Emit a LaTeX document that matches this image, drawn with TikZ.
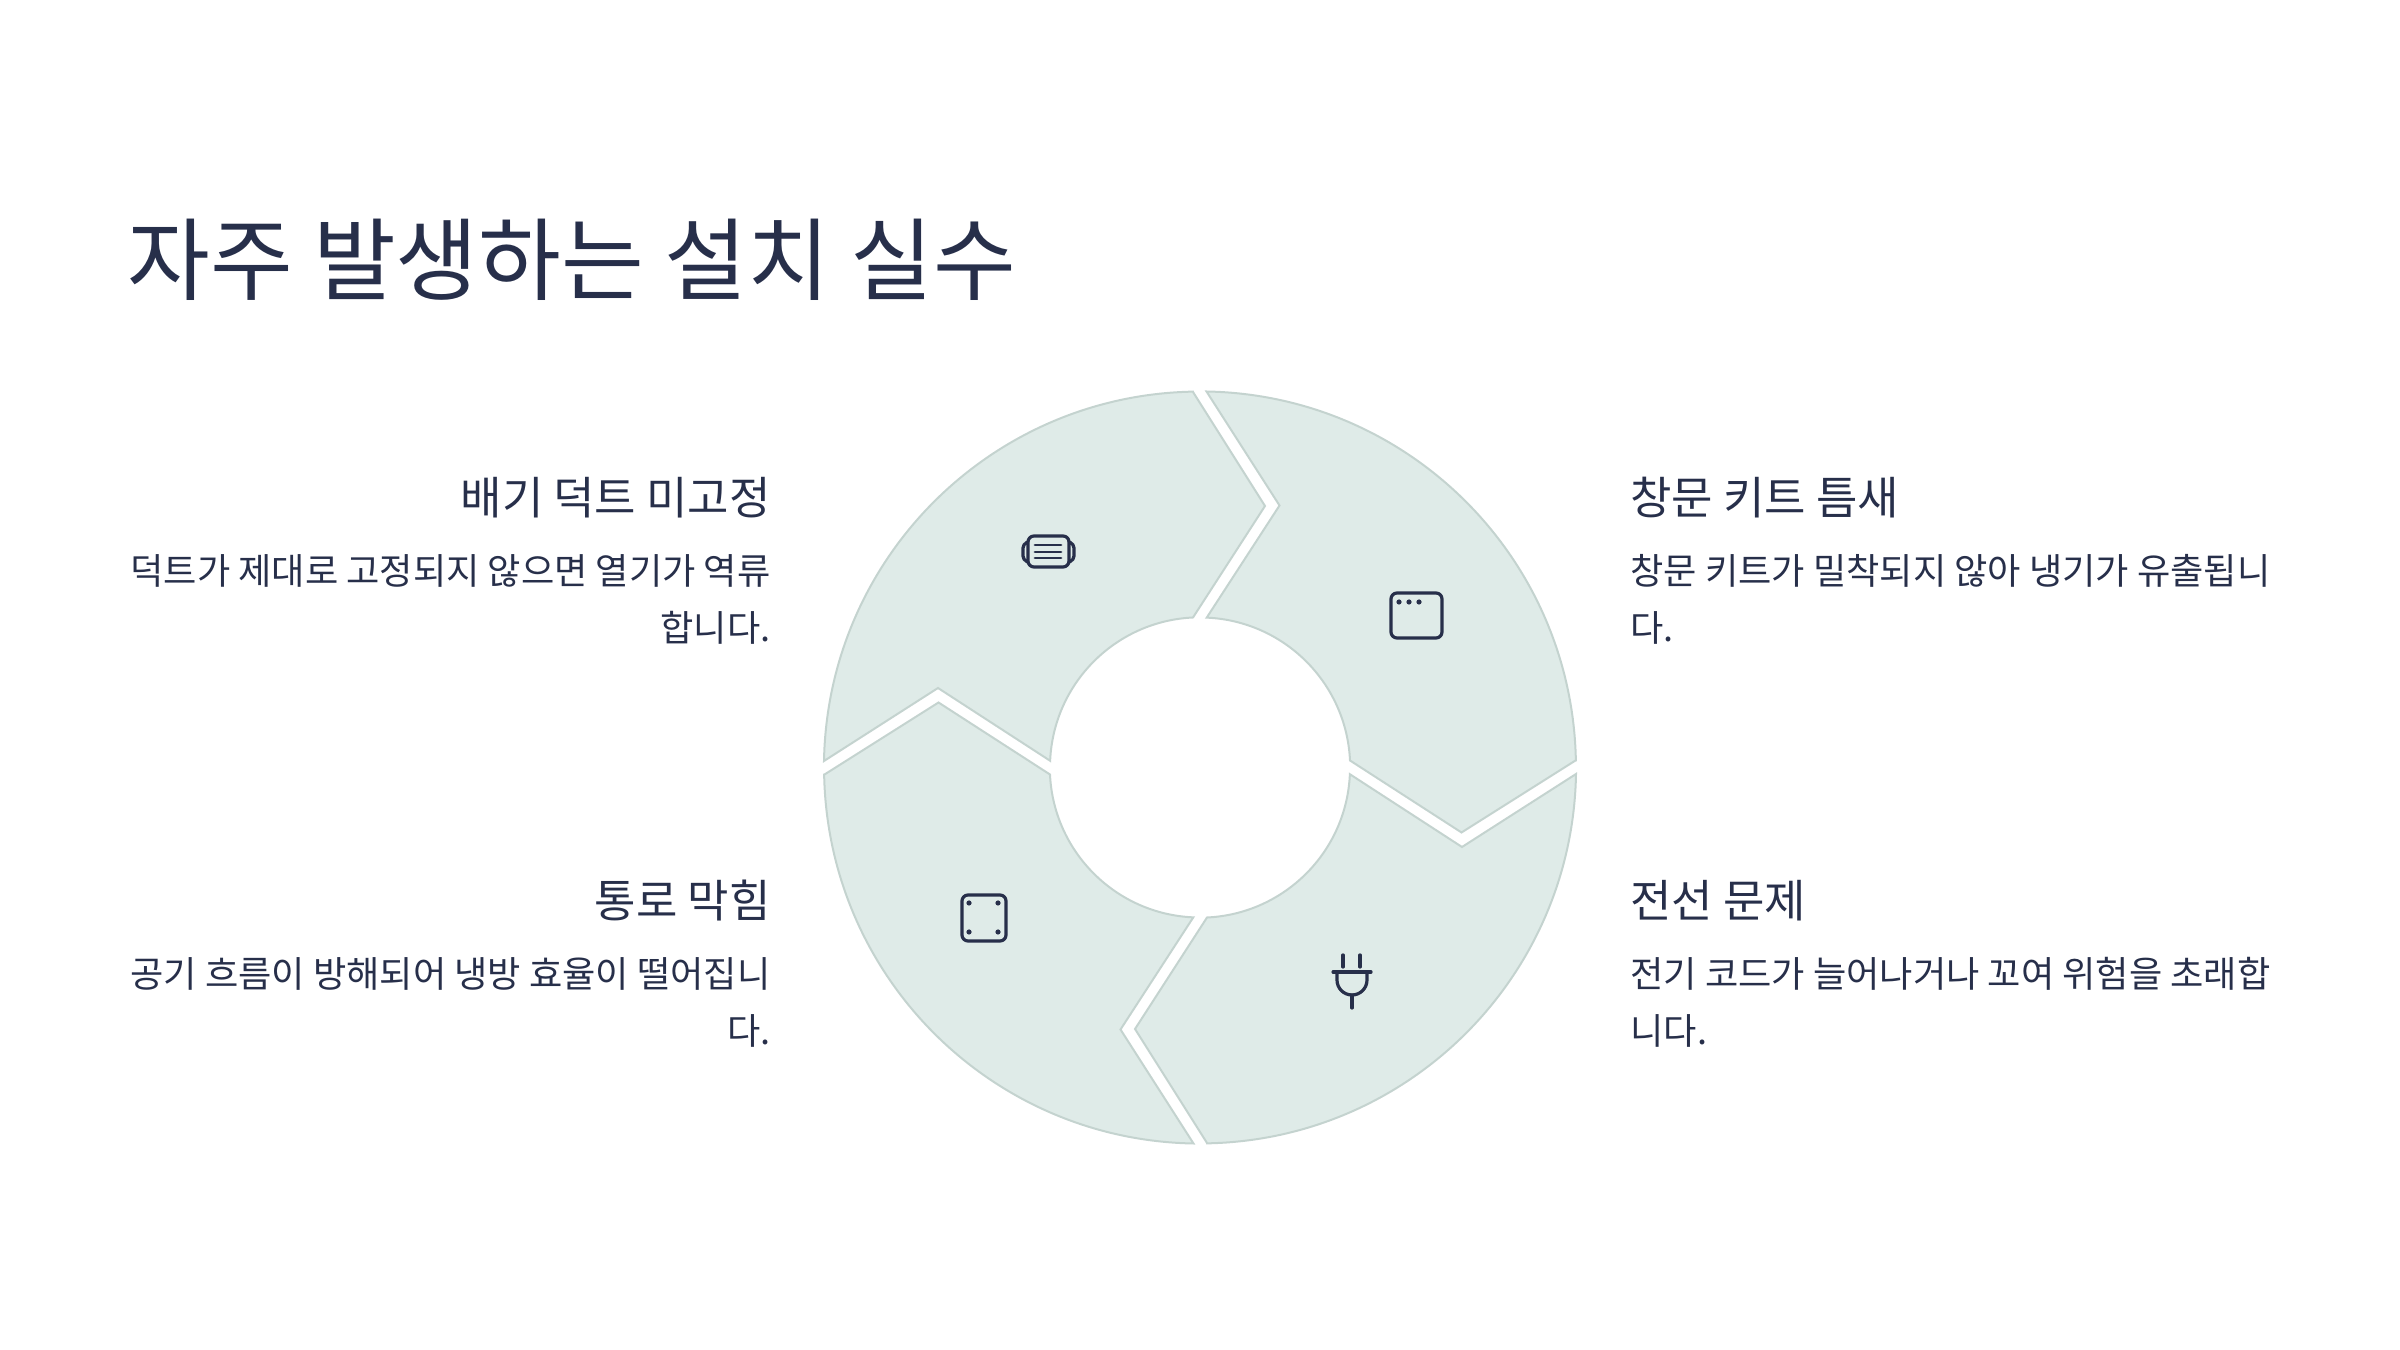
\documentclass[tikz,border=0pt]{standalone}
\usepackage{fontspec}
\setmainfont{Noto Sans CJK KR}
\usepackage{xcolor}
\definecolor{ink}{HTML}{272F4A}
\definecolor{petal}{HTML}{DFEBE8}
\definecolor{petaledge}{HTML}{C4D3CF}
\tikzset{
  petalshape/.style={draw=petaledge,fill=petal,line width=1pt,line join=miter},
  icon/.style={draw=ink,line width=1.6pt,line cap=round,line join=round},
  icondot/.style={fill=ink},
  titletext/.style={text=ink,inner sep=0pt,anchor=base west,font=\fontsize{45}{54}\selectfont},
  headleft/.style={text=ink,inner sep=0pt,anchor=base east,font=\fontsize{22.5}{27}\selectfont},
  headright/.style={text=ink,inner sep=0pt,anchor=base west,font=\fontsize{22.5}{27}\selectfont},
  bodyleft/.style={text=ink,inner sep=0pt,anchor=base east,align=right,font=\fontsize{18.1}{28.8}\selectfont},
  bodyright/.style={text=ink,inner sep=0pt,anchor=base west,align=left,font=\fontsize{18.1}{28.8}\selectfont}
}
\begin{document}
\begin{tikzpicture}[x=0.5pt,y=0.5pt]
  \useasboundingbox (0,0) rectangle (2400,1350);
  % ring of four petals, one turned copy each
  \foreach \turn in {0,-90,-180,-270} {
    \begin{scope}[shift={(1200,582.5)},rotate=\turn]
      \draw[petalshape] (-7,375.5) -- (65,261.5) -- (-7,150)
        arc (92.67:177.5:150) -- (-262,79.5) -- (-376,6.5)
        arc (179:91.07:376) -- cycle;
    \end{scope}
  }

  % title
  \node[titletext] (title) at (127,1056) {자주 발생하는 설치 실수};

  % left column
  \node[headleft] (ducthead) at (771,835) {배기 덕트 미고정};
  \node[bodyleft] (ductbody) at (771,708) {덕트가 제대로 고정되지 않으면 열기가 역류\\합니다.};
  \node[headleft] (blockhead) at (771,432) {통로 막힘};
  \node[bodyleft] (blockbody) at (771,305) {공기 흐름이 방해되어 냉방 효율이 떨어집니\\다.};

  % right column
  \node[headright] (kithead) at (1630,835) {창문 키트 틈새};
  \node[bodyright] (kitbody) at (1630,708) {창문 키트가 밀착되지 않아 냉기가 유출됩니\\다.};
  \node[headright] (wirehead) at (1630,432) {전선 문제};
  \node[bodyright] (wirebody) at (1630,305) {전기 코드가 늘어나거나 꼬여 위험을 초래합\\니다.};

  % duct icon
  \draw[icon,rounded corners=3pt] (1028,814) rectangle (1069,783);
  \draw[icon,rounded corners=2pt] (1028,808) -- (1023,806) -- (1023,790) -- (1028,788);
  \draw[icon,rounded corners=2pt] (1069,808) -- (1074,806) -- (1074,790) -- (1069,788);
  \foreach \yy in {805,798,792}
    \draw[icon,line width=1.4pt] (1035,\yy) -- (1061,\yy);

  % window icon
  \draw[icon,rounded corners=3pt] (1391,757) rectangle (1442,712);
  \foreach \xx in {1399,1409,1419}
    \fill[icondot] (\xx,748) circle (2.6);

  % plug icon
  \draw[icon] (1343,395) -- (1343,383);
  \draw[icon] (1360,395) -- (1360,383);
  \draw[icon] (1333,378) -- (1371,378);
  \draw[icon] (1337,378) -- (1337,370) arc (180:360:15) -- (1367,378);
  \draw[icon] (1352,355) -- (1352,342);

  % vent icon
  \draw[icon,rounded corners=3pt] (962,455) rectangle (1006,409);
  \foreach \xx in {969,998}
    \foreach \yy in {447,418}
      \fill[icondot] (\xx,\yy) circle (2.6);
\end{tikzpicture}
\end{document}
